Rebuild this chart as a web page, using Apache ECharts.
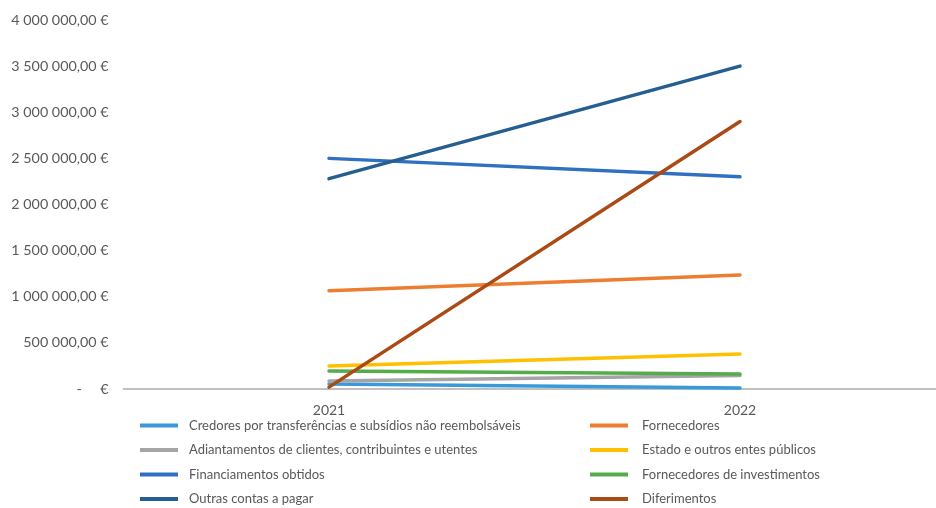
<!DOCTYPE html>
<html>
<head>
<meta charset="utf-8">
<script src="https://cdn.jsdelivr.net/npm/echarts@6/dist/echarts.min.js"></script>
<style>
html,body{margin:0;padding:0;background:#fff;}
#chart{width:936px;height:508px;}
</style>
</head>
<body>
<div id="chart"></div>
<script>
const categories = ['2021', '2022'];
const seriesNames = [
  'Credores por transferências e subsídios não reembolsáveis',
  'Fornecedores',
  'Adiantamentos de clientes, contribuintes e utentes',
  'Estado e outros entes públicos',
  'Financiamentos obtidos',
  'Fornecedores de investimentos',
  'Outras contas a pagar',
  'Diferimentos'
];
const credores = [55000, 10000];
const fornecedores = [1065000, 1235000];
const adiantamentos = [87000, 145000];
const estado = [250000, 380000];
const financiamentos = [2500000, 2300000];
const fornInvest = [196000, 163000];
const outrasContas = [2280000, 3500000];
const diferimentos = [20000, 2900000];
const yTicks = [0, 500000, 1000000, 1500000, 2000000, 2500000, 3000000, 3500000, 4000000];

const seriesValues = [credores, fornecedores, adiantamentos, estado, financiamentos, fornInvest, outrasContas, diferimentos];
const colors = ['#3a9ad9', '#ed7d31', '#a5a5a5', '#ffc000', '#3070c0', '#52ad4a', '#255e91', '#ac4a14'];

const FONT = 'Lato, "Liberation Sans", sans-serif';
const TXT = '#595959';

function fmt(v) {
  if (v === 0) return '-     €';
  const s = Math.round(v).toString().replace(/\B(?=(\d{3})+(?!\d))/g, ' ');
  return s + ',00 €';
}

const legends = seriesNames.map((n, i) => ({
  data: [n],
  left: (i % 2 === 0) ? 140 : 590,
  top: 419 + Math.floor(i / 2) * 24.5,
  icon: 'rect',
  itemWidth: 38,
  itemHeight: 4,
  selectedMode: false,
  padding: 0,
  textStyle: { color: TXT, fontFamily: FONT, fontSize: 13, padding: [0, 0, 0, (i % 2 === 0) ? 6 : 9] }
}));

const chart = echarts.init(document.getElementById('chart'));
chart.setOption({
  animation: false,
  color: colors,
  legend: legends,
  grid: { left: 123.5, top: 20, width: 822, height: 369, containLabel: false, outerBoundsMode: 'none' },
  xAxis: {
    type: 'category',
    data: categories,
    boundaryGap: true,
    axisLine: { lineStyle: { color: '#c0c0c0', width: 2 } },
    axisTick: { show: false },
    axisLabel: { color: TXT, fontFamily: FONT, fontSize: 14, margin: 14 }
  },
  yAxis: {
    type: 'value',
    min: 0,
    max: 4000000,
    interval: 500000,
    axisLine: { show: false },
    axisTick: { show: false },
    splitLine: { show: false },
    axisLabel: {
      color: TXT, fontFamily: FONT, fontSize: 14.3, margin: 15,
      formatter: v => yTicks.includes(v) ? fmt(v) : ''
    }
  },
  series: seriesNames.map((n, i) => ({
    name: n,
    type: 'line',
    data: seriesValues[i],
    symbol: 'none',
    lineStyle: { width: 3.5, color: colors[i], cap: 'round' },
    itemStyle: { color: colors[i] }
  }))
});
</script>
</body>
</html>
